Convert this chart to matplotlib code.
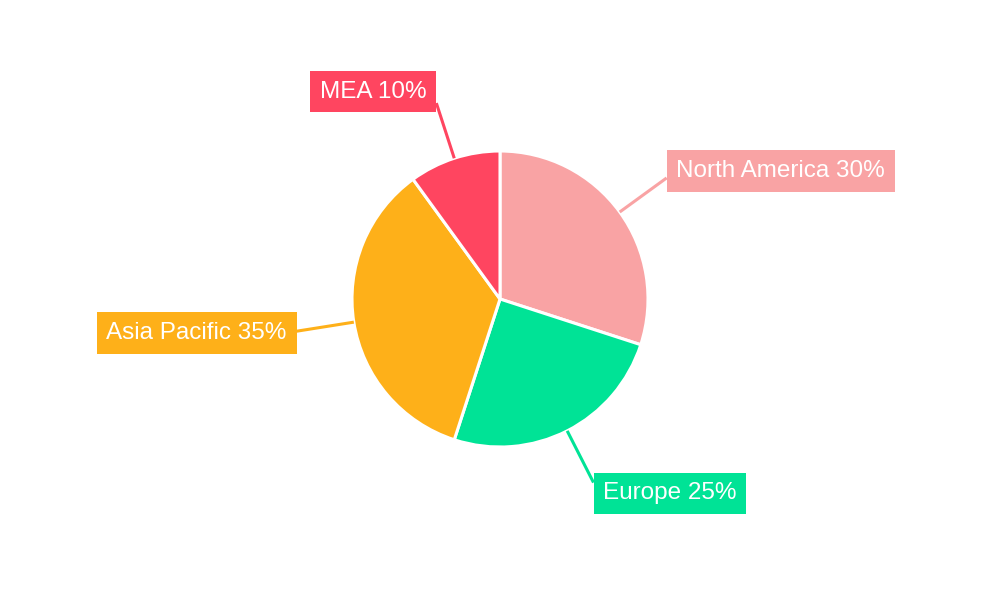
import numpy as np
import matplotlib
matplotlib.use("Agg")
import matplotlib.pyplot as plt

plt.rcParams['font.family'] = ['Liberation Sans', 'DejaVu Sans']

regions = ["North America", "Europe", "Asia Pacific", "MEA"]
shares = [30, 25, 35, 10]
colors = ["#F9A3A4", "#00E396", "#FEB019", "#FF4560"]

fig = plt.figure(figsize=(10, 6), dpi=100)
ax = fig.add_axes([0, 0, 1, 1])

cx, cy, R = 500, 301, 148
fs = 17.5
pad = 0.4
padpx = pad * fs * 100 / 72

wedges, _ = ax.pie(shares, colors=colors, startangle=90, counterclock=False,
                   center=(cx, cy), radius=R,
                   wedgeprops=dict(edgecolor="white", linewidth=2.2))

for w, name, val, col in zip(wedges, regions, shares, colors):
    ang = np.deg2rad((w.theta1 + w.theta2) / 2)
    c, s = np.cos(ang), np.sin(ang)
    x0, y0 = cx + R * c, cy + R * s
    x1, y1 = cx + (R + 58) * c, cy + (R + 58) * s
    ax.plot([x0, x1], [y0, y1], color=col, lw=2.2, solid_capstyle="butt", zorder=1)
    sign = 1 if c >= 0 else -1
    ha = "left" if c >= 0 else "right"
    ax.text(x1 + sign * padpx, y1 + 12 * s, f"{name} {val}%", ha=ha, va="center",
            fontsize=fs, color="white", zorder=3,
            bbox=dict(boxstyle=f"square,pad={pad}", fc=col, ec="none"))

ax.set_xlim(0, 1000)
ax.set_ylim(0, 600)
ax.set_aspect("equal")
ax.axis("off")
fig.savefig("out.png", dpi=100, facecolor="white")
